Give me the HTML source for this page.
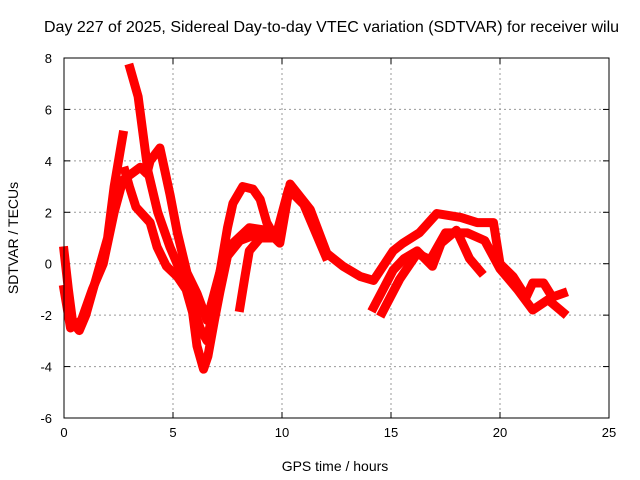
<!DOCTYPE html>
<html><head><meta charset="utf-8"><style>
body{margin:0;background:#fff}
svg{display:block;font-family:"Liberation Sans",sans-serif}
</style></head><body>
<svg id="c" width="640" height="480">
<text x="44" y="32" font-size="16" fill="#000">Day 227 of 2025, Sidereal Day-to-day VTEC variation (SDTVAR) for receiver wilu</text>
<text x="335" y="471" font-size="14" text-anchor="middle">GPS time / hours</text>
<text transform="translate(18,238) rotate(-90)" font-size="14" text-anchor="middle">SDTVAR / TECUs</text>
<g id="grid"></g><g id="ticks"></g><g id="series"></g>
<rect x="64" y="58" width="545" height="360" fill="none" stroke="#000" stroke-width="1"/>
</svg>
<script>
const xTicks=[0,5,10,15,20,25];
const yTicks=[-6,-4,-2,0,2,4,6,8];
const track1=[[0,0.5],[0.2,-1],[0.4,-2.3],[0.7,-2.6],[1,-2],[1.5,-0.5],[2,1],[2.3,3],[2.7,5]];
const track2=[[0,-1],[0.3,-2.5],[0.8,-2.2],[1.3,-1],[1.8,0],[2.3,2],[2.7,3.25],[3.5,3.75],[3.8,3.5],[3.95,4.0],[4.4,4.5],[4.86,2.7],[5.2,1.2],[5.64,-0.35],[6.1,-1.15],[6.56,-2.2],[7.3,0.15],[7.75,0.8],[8.5,1.4],[9.3,1.3],[9.9,0.8],[10.37,3.1],[11.3,2.1],[12.06,0.4],[12.8,-0.1],[13.6,-0.5],[14.2,-0.65],[15.1,0.5],[15.55,0.8],[16.3,1.2],[17.1,1.95],[18.2,1.8],[18.95,1.6],[19.7,1.6],[20,0],[20.6,-0.5],[21.2,-1.3],[21.5,-0.75],[22,-0.75],[22.4,-1.3],[22.9,-1.15]];
const track3=[[3.03,7.6],[3.4,6.5],[3.85,3.6],[4.3,2.0],[4.86,0.65],[5.64,-0.9],[6.24,-2.5],[6.56,-3.0],[7.0,-1.1],[7.5,1.4],[7.75,2.35],[8.2,3.0],[8.67,2.9],[9.0,2.5],[9.3,1.6],[9.7,1.0],[10.3,2.9],[11,2.3],[12,0.3]];
const track4=[[2.8,3.6],[3.0,3.0],[3.3,2.2],[3.95,1.6],[4.27,0.65],[4.7,-0.1],[5.2,-0.5],[5.6,-1.0],[5.9,-1.9],[6.1,-3.2],[6.4,-4.1],[6.6,-3.6],[6.9,-2.2],[7.15,-1.1],[7.5,0.3],[8.07,0.9],[9,1.2]];
const track5=[[8.07,-1.7],[8.3,-0.5],[8.5,0.5],[9,1.0],[9.5,1.0]];
const track6=[[14.2,-1.7],[15.1,-0.25],[15.6,0.2],[16.2,0.5],[16.9,-0.1],[17.3,0.8],[18,1.3],[18.6,0.2],[19.1,-0.3]];
const track7=[[14.6,-1.9],[15.4,-0.6],[16.2,0.4],[16.8,0.15],[17.5,1.2],[18.5,1.2],[19.3,0.9],[20,-0.2],[20.8,-1.0],[21.5,-1.8],[22.2,-1.4],[22.9,-1.9]];
const tracks=[track1,track2,track3,track4,track5,track6,track7];
const X=h=>64+h*545/25, Y=v=>418-(v+6)*360/14;
const NS="http://www.w3.org/2000/svg";
const grid=document.getElementById('grid'),ticks=document.getElementById('ticks'),ser=document.getElementById('series');
function mk(t,a,p){const e=document.createElementNS(NS,t);for(const k in a)e.setAttribute(k,a[k]);p.appendChild(e);return e;}
xTicks.forEach(t=>{
 if(t>0&&t<25){const l=mk('line',{x1:X(t),x2:X(t),y1:58,y2:418,stroke:'#999','stroke-dasharray':'2,3'},grid);
 
 }
 mk('line',{x1:X(t),x2:X(t),y1:418,y2:412,stroke:'#000'},ticks);
 mk('line',{x1:X(t),x2:X(t),y1:58,y2:64,stroke:'#000'},ticks);
 const tx=mk('text',{x:X(t),y:437,'font-size':13,'text-anchor':'middle'},ticks);tx.textContent=t;
 
 
});
yTicks.forEach(t=>{
 if(t>-6&&t<8){const l=mk('line',{x1:64,x2:609,y1:Y(t),y2:Y(t),stroke:'#999','stroke-dasharray':'2,3'},grid);
 
 }
 mk('line',{x1:64,x2:70,y1:Y(t),y2:Y(t),stroke:'#000'},ticks);
 mk('line',{x1:603,x2:609,y1:Y(t),y2:Y(t),stroke:'#000'},ticks);
 const tx=mk('text',{x:52,y:Y(t)+5,'font-size':13,'text-anchor':'end'},ticks);tx.textContent=t;
 
 
});
tracks.forEach((tr,i)=>{
 const p=mk('polyline',{points:tr.map(d=>X(d[0])+','+Y(d[1])).join(' '),fill:'none',stroke:'#f00','stroke-width':9,'stroke-linejoin':'round','stroke-linecap':'square'},ser);
 
 
});
</script>
</body></html>
